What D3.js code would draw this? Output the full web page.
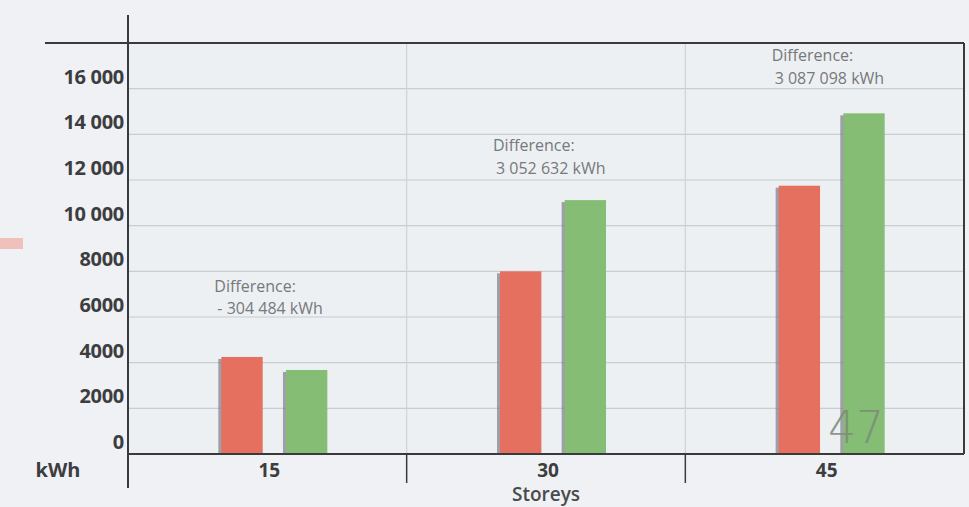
<!DOCTYPE html>
<html>
<head>
<meta charset="utf-8">
<script src="https://cdn.jsdelivr.net/npm/d3@7/dist/d3.min.js"></script>
<style>
  html, body { margin: 0; padding: 0; background: #eff1f4; }
  svg { display: block; }
</style>
</head>
<body>
<svg id="chart" width="969" height="507"></svg>
<script>
// ---- data ----
const categories = ["15", "30", "45"];
const redValues = [4250, 8000, 11750];
const greenValues = [3680, 11120, 14920];
const yTicks = [0, 2000, 4000, 6000, 8000, 10000, 12000, 14000, 16000];
const yTickLabels = ["0", "2000", "4000", "6000", "8000", "10 000", "12 000", "14 000", "16 000"];
const diffLine1 = ["Difference:", "Difference:", "Difference:"];
const diffLine2 = ["- 304 484 kWh", "3 052 632 kWh", "3 087 098 kWh"];
const diffAnchorValues = [7350, 13500, 17450];
const yUnit = "kWh";
const xTitle = "Storeys";
const pageNumber = "47";

// ---- layout ----
(function () {
const svg = d3.select("#chart");
const pL = 128, pR = 964, pT = 43, pB = 454;
const x = d3.scaleBand().domain(categories).range([pL, pR]).padding(0);
const y = d3.scaleLinear().domain([0, 18000]).range([pB, pT]);
const series = ["red", "green"];
const colors = { red: "#e5705f", green: "#84bd73" };
const inner = d3.scaleBand().domain(series).range([-46, 60]).paddingInner(0.36);

svg.append("rect").attr("width", 969).attr("height", 507).attr("fill", "#eff1f4");
svg.append("rect").attr("x", pL).attr("y", pT).attr("width", pR - pL).attr("height", pB - pT)
  .attr("fill", "#edf0f3");

// horizontal gridlines
svg.append("g").selectAll("line").data(yTicks.filter(d => d > 0)).join("line")
  .attr("x1", pL).attr("x2", pR)
  .attr("y1", d => y(d)).attr("y2", d => y(d))
  .attr("stroke", "#c9ccd0").attr("stroke-width", 1.2);

// vertical dividers
const dividers = categories.slice(1);
svg.append("g").selectAll("line").data(dividers).join("line")
  .attr("x1", d => x(d)).attr("x2", d => x(d))
  .attr("y1", pT).attr("y2", pB)
  .attr("stroke", "#cfd2d6").attr("stroke-width", 1.2);

// bars with a left shadow
const groups = svg.append("g").selectAll("g").data(categories).join("g")
  .attr("transform", d => `translate(${x(d) + x.bandwidth() / 2},0)`);

groups.each(function(cat, i) {
  const g = d3.select(this);
  const vals = { red: redValues[i], green: greenValues[i] };
  series.forEach(s => {
    const bx = inner(s), bw = inner.bandwidth();
    g.append("rect")
      .attr("x", bx - 3).attr("y", y(vals[s]) + 2)
      .attr("width", 5).attr("height", pB - y(vals[s]) - 2)
      .attr("fill", "#7f7a88").attr("opacity", 0.7);
    g.append("rect")
      .attr("x", bx).attr("y", y(vals[s]))
      .attr("width", bw).attr("height", pB - y(vals[s]))
      .attr("fill", colors[s]);
  });
});

// frame lines
const ink = "#3a3a3c";
svg.append("line").attr("x1", 45).attr("x2", pR).attr("y1", pT).attr("y2", pT)
  .attr("stroke", ink).attr("stroke-width", 2);
svg.append("line").attr("x1", pR).attr("x2", pR).attr("y1", pT).attr("y2", pB)
  .attr("stroke", ink).attr("stroke-width", 2);
svg.append("line").attr("x1", pL).attr("x2", pL).attr("y1", 15).attr("y2", 488)
  .attr("stroke", ink).attr("stroke-width", 2);
svg.append("line").attr("x1", pL).attr("x2", pR).attr("y1", pB).attr("y2", pB)
  .attr("stroke", ink).attr("stroke-width", 2);
svg.append("g").selectAll("line").data(dividers).join("line")
  .attr("x1", d => x(d)).attr("x2", d => x(d))
  .attr("y1", pB).attr("y2", 483)
  .attr("stroke", ink).attr("stroke-width", 1.5);

// y tick labels
svg.append("g").selectAll("text").data(yTicks).join("text")
  .attr("x", 124).attr("y", d => y(d) - 12)
  .attr("dy", "0.35em")
  .attr("text-anchor", "end")
  .attr("font-family", "'Open Sans', sans-serif")
  .attr("font-weight", "bold").attr("font-size", 20)
  .attr("letter-spacing", "-0.3")
  .attr("fill", "#3d3d3f")
  .text((d, i) => yTickLabels[i]);

// x tick labels
svg.append("g").selectAll("text").data(categories).join("text")
  .attr("x", d => x(d) + x.bandwidth() / 2 + 2).attr("y", 470)
  .attr("dy", "0.35em").attr("text-anchor", "middle")
  .attr("font-family", "'Open Sans', sans-serif")
  .attr("font-weight", "bold").attr("font-size", 19)
  .attr("fill", "#3d3d3f")
  .text(d => d);

svg.append("text").attr("x", 58).attr("y", 470).attr("dy", "0.35em")
  .attr("text-anchor", "middle")
  .attr("font-family", "'Open Sans', sans-serif")
  .attr("font-weight", "bold").attr("font-size", 20)
  .attr("fill", "#3d3d3f").text(yUnit);

svg.append("text").attr("x", 546).attr("y", 494).attr("dy", "0.35em")
  .attr("text-anchor", "middle")
  .attr("font-family", "'Open Sans', sans-serif")
  .attr("font-weight", "600").attr("font-size", 19)
  .attr("fill", "#4a4a4c").text(xTitle);

// difference annotations
const ann = svg.append("g").selectAll("g").data(categories).join("g")
  .attr("transform", (d, i) => `translate(${x(d) + x.bandwidth() / 2 - 53},${y(diffAnchorValues[i])})`);
ann.append("text").attr("x", 0).attr("y", 0).attr("dy", "0.35em")
  .attr("font-family", "'Open Sans', sans-serif").attr("font-size", 16)
  .attr("fill", "#77787b").text((d, i) => diffLine1[i]);
ann.append("text").attr("x", 3).attr("y", 22.5).attr("dy", "0.35em")
  .attr("font-family", "'Open Sans', sans-serif").attr("font-size", 16)
  .attr("fill", "#77787b").text((d, i) => diffLine2[i]);

// scan artifacts: pink legend remnant and page number
svg.append("rect").attr("x", 0).attr("y", 238).attr("width", 23).attr("height", 11)
  .attr("fill", "#f0b4ab").attr("opacity", 0.8);
svg.append("text").attr("x", 856).attr("y", 428).attr("dy", "0.35em")
  .attr("text-anchor", "middle")
  .attr("font-family", "'DejaVu Sans', sans-serif").attr("font-weight", 200)
  .attr("font-size", 44).attr("fill", "#7d8a78").attr("opacity", 0.85)
  .text(pageNumber);
})();
</script>
</body>
</html>
